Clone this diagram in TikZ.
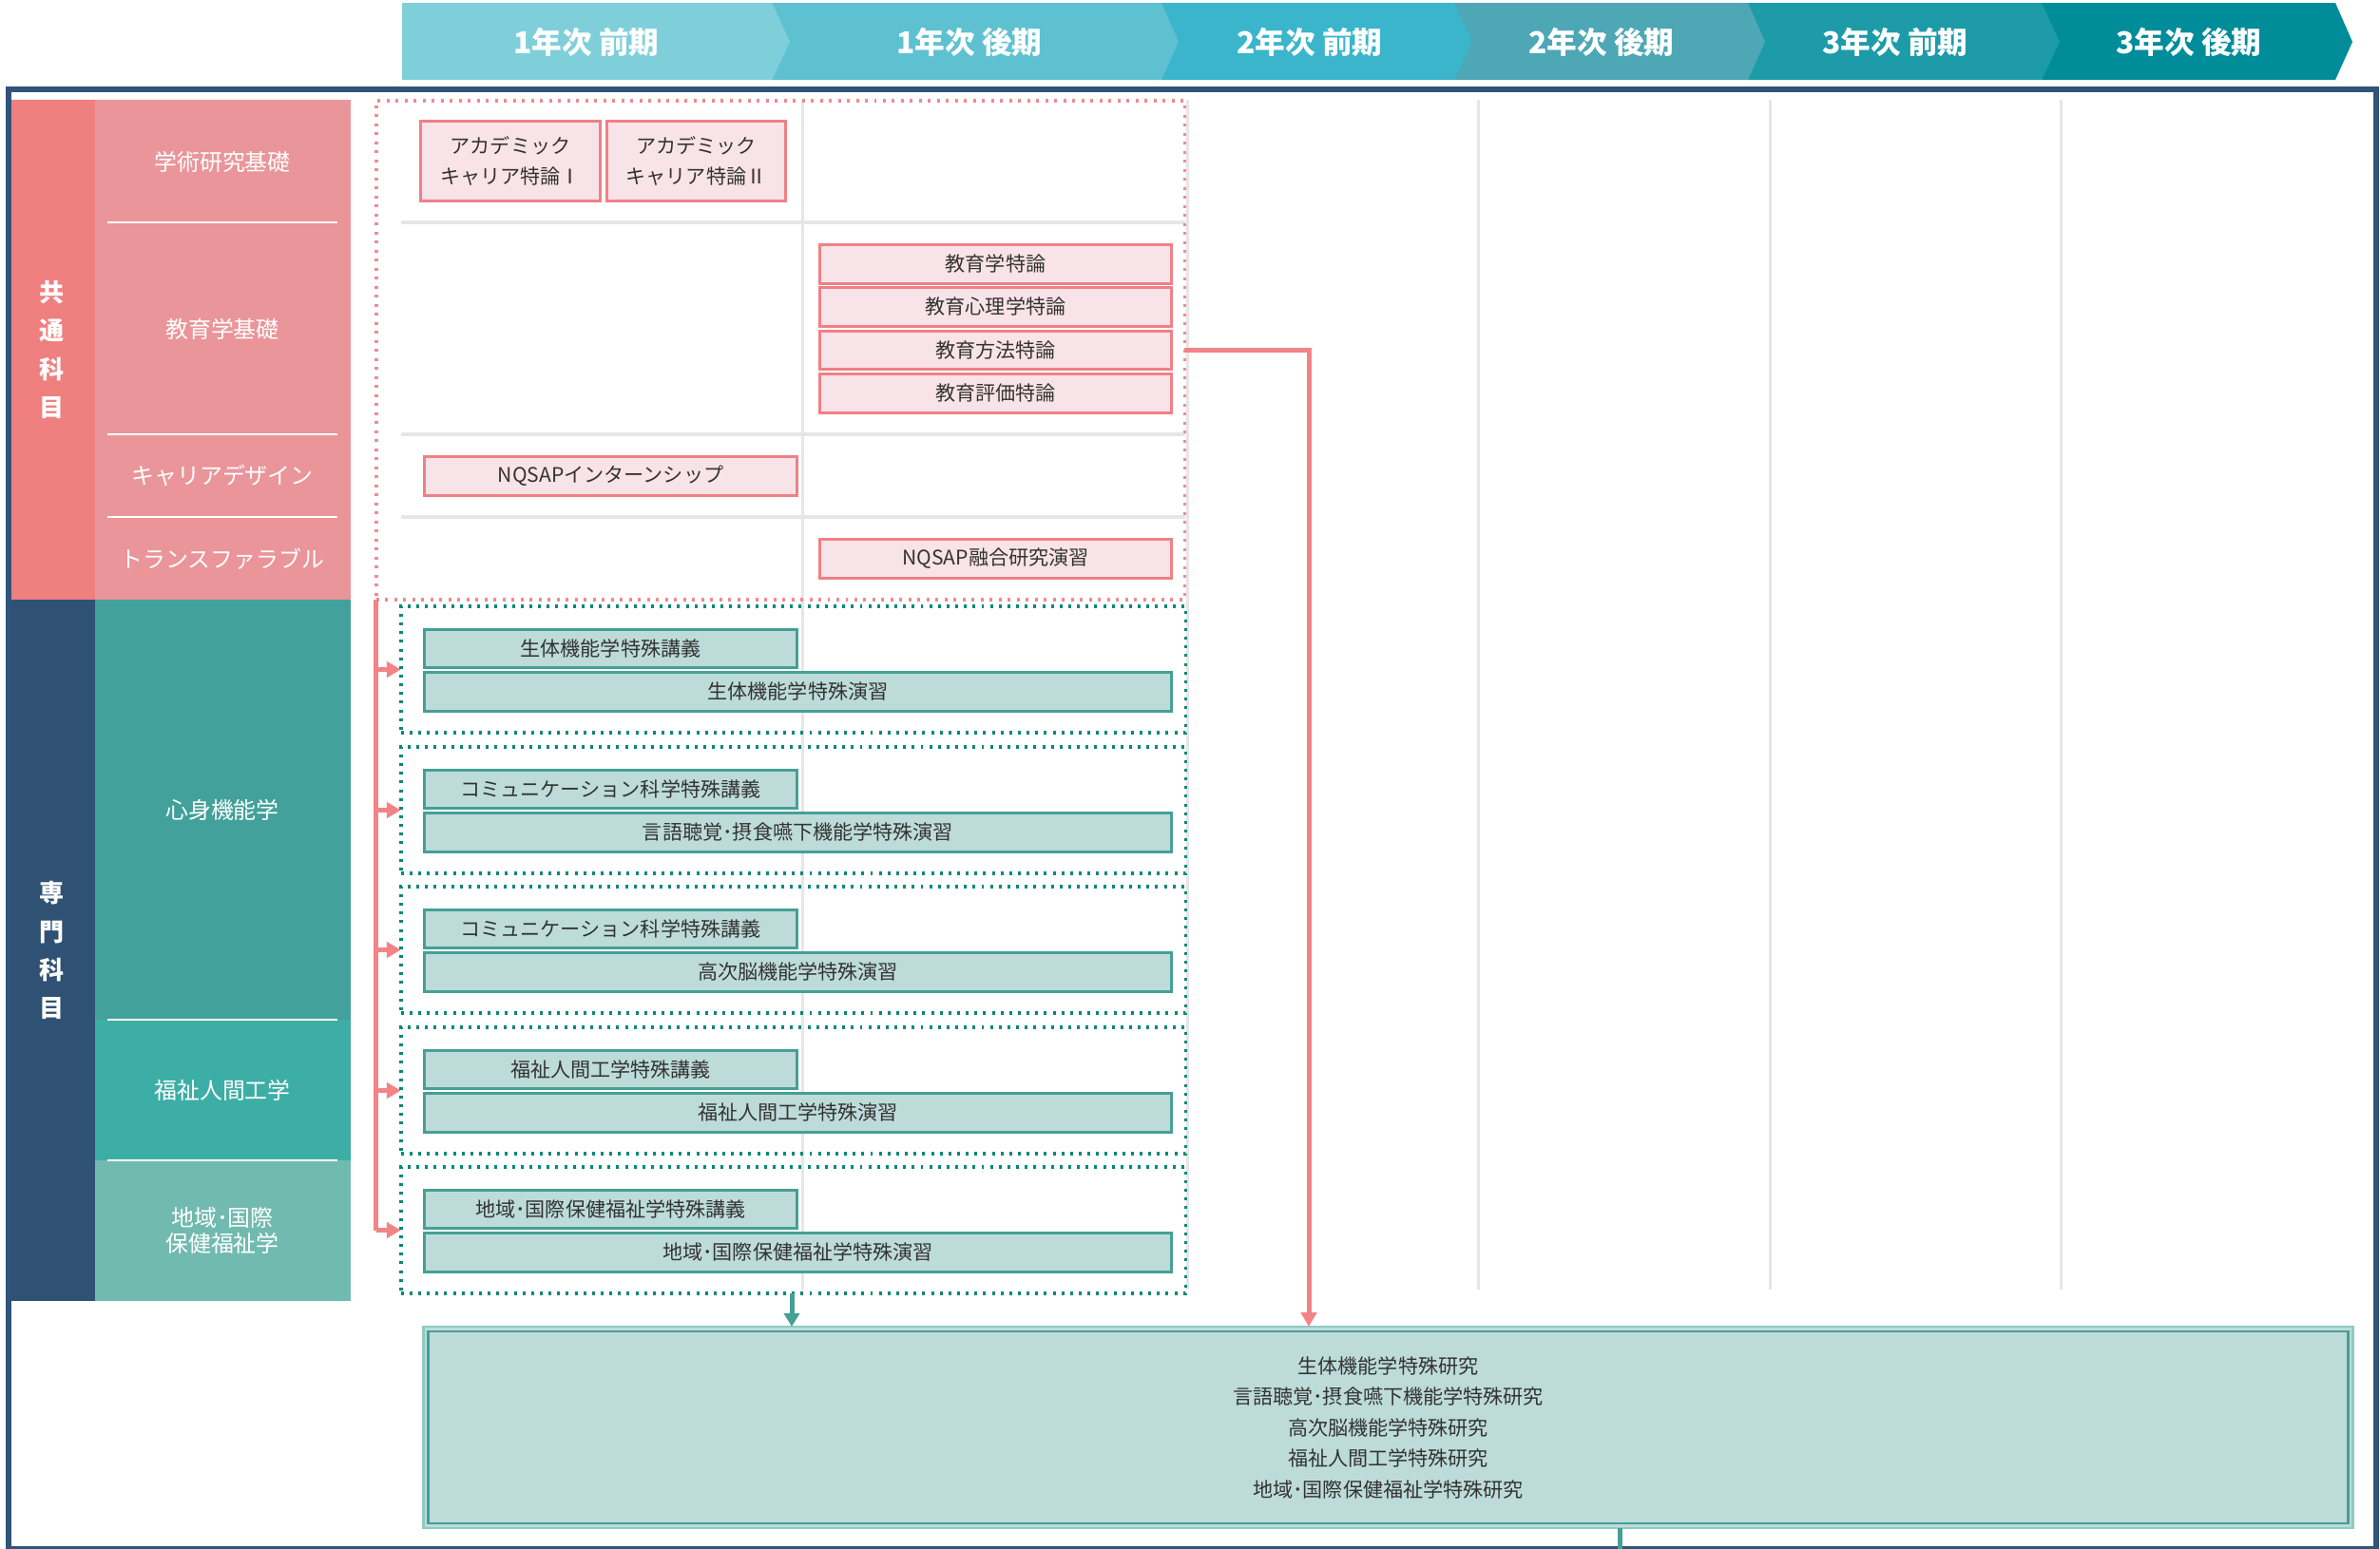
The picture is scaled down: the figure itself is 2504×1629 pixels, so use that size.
\documentclass[tikz,border=0pt]{standalone}
\usepackage{fontspec}
\setmainfont{Noto Sans CJK JP}
\usetikzlibrary{arrows.meta}
\definecolor{hA}{HTML}{7FCFDB}
\definecolor{hB}{HTML}{5EC1D1}
\definecolor{hC}{HTML}{3BB5CB}
\definecolor{hD}{HTML}{4DA7B5}
\definecolor{hE}{HTML}{1D9BA8}
\definecolor{hF}{HTML}{008C99}
\definecolor{navy}{HTML}{31547A}
\definecolor{catpink}{HTML}{F07F80}
\definecolor{subpink}{HTML}{EA959A}
\definecolor{catnavy}{HTML}{2F5173}
\definecolor{subteal}{HTML}{42A19A}
\definecolor{subtealB}{HTML}{3DAEA5}
\definecolor{subtealC}{HTML}{71BAB0}
\definecolor{pinkline}{HTML}{F08085}
\definecolor{pinkfill}{HTML}{F8E3E8}
\definecolor{pinkdot}{HTML}{EE8C92}
\definecolor{pinkconn}{HTML}{F28487}
\definecolor{tealline}{HTML}{45A096}
\definecolor{tealfill}{HTML}{BDDCD9}
\definecolor{tealdot}{HTML}{00897B}
\definecolor{teallight}{HTML}{8FC9C2}
\definecolor{gridgrey}{HTML}{E6E6E6}
\definecolor{txt}{HTML}{333333}
\newcommand\mybox[7]{\node[#1,minimum width={(#5-#3)*0.28453pt},minimum height={(#6-#4)*0.28453pt}] (#2) at ({(#3+#5)/2},{(#4+#6)/2}) {#7};}
\tikzset{
  hdrlab/.style={text=white, font=\bfseries\fontsize{9pt}{10pt}\selectfont},
  catlab/.style={text=white, font=\bfseries\fontsize{7.4pt}{11.4pt}\selectfont, align=center},
  sublab/.style={text=white, font=\fontsize{6.8pt}{7.8pt}\selectfont, align=center},
  pbox/.style={draw=pinkline, fill=pinkfill, line width=0.85pt, text=txt, font=\fontsize{6pt}{9.1pt}\selectfont, align=center, inner sep=0pt, outer sep=0pt},
  tbox/.style={draw=tealline, fill=tealfill, line width=0.85pt, text=txt, font=\fontsize{6pt}{9.1pt}\selectfont, align=center, inner sep=0pt, outer sep=0pt},
  bigbox/.style={draw=teallight, fill=tealfill, line width=0.7pt, text=txt, font=\fontsize{6pt}{9.25pt}\selectfont, align=center, inner sep=0pt, outer sep=0pt},
  pdot/.style={draw=pinkdot, line width=1pt, dash pattern=on 0.85pt off 1.85pt, inner sep=0pt, outer sep=0pt},
  tdot/.style={draw=tealdot, line width=1pt, dash pattern=on 0.85pt off 1.75pt, inner sep=0pt, outer sep=0pt},
  pconn/.style={draw=pinkconn, line width=1.42pt, -{Triangle[length=4.2pt,width=4.6pt]}},
  plink/.style={draw=pinkconn, line width=1.42pt},
  tconn/.style={draw=tealline, line width=1.42pt, -{Triangle[length=4pt,width=4.6pt]}},
  tlink/.style={draw=tealline, line width=1.42pt},
  gridv/.style={draw=gridgrey, line width=0.85pt},
  gridh/.style={draw=gridgrey, line width=1.2pt},
  sepline/.style={draw=white, line width=0.8pt},
}
\begin{document}
\begin{tikzpicture}[x=0.01cm,y=-0.01cm]
\useasboundingbox (0,0) rectangle (2504,1629);
% header chevrons
\fill[hF] (2148,3) -- (2457,3) -- (2475,44) -- (2457,84) -- (2148,84) -- cycle;
\fill[hE] (1839,3) -- (2148,3) -- (2167,44) -- (2148,84) -- (1839,84) -- cycle;
\fill[hD] (1530,3) -- (1839,3) -- (1857,44) -- (1839,84) -- (1530,84) -- cycle;
\fill[hC] (1222,3) -- (1530,3) -- (1549,44) -- (1530,84) -- (1222,84) -- cycle;
\fill[hB] (812,3) -- (1222,3) -- (1240,44) -- (1222,84) -- (812,84) -- cycle;
\fill[hA] (423,3) -- (812,3) -- (831,44) -- (812,84) -- (423,84) -- cycle;
\node[hdrlab] (h1) at (617,44) {1年次 前期};
\node[hdrlab] (h2) at (1020,44) {1年次 後期};
\node[hdrlab] (h3) at (1378,44) {2年次 前期};
\node[hdrlab] (h4) at (1685,44) {2年次 後期};
\node[hdrlab] (h5) at (1994,44) {3年次 前期};
\node[hdrlab] (h6) at (2303,44) {3年次 後期};
% frame
\draw[navy, line width=1.71pt] (9,94) rectangle (2500,1630);
% left columns
\fill[catpink] (12,105) rectangle (100,631);
\fill[subpink] (100,105) rectangle (369,631);
\fill[catnavy] (12,631) rectangle (100,1369);
\fill[subteal] (100,631) rectangle (369,1073);
\fill[subtealB] (100,1073) rectangle (369,1221);
\fill[subtealC] (100,1221) rectangle (369,1369);
\foreach \yy in {234,457,544,1073,1221} \draw[sepline] (113,\yy) -- (355,\yy);
\node[catlab] (k1) at (55,368) {共\\通\\科\\目};
\node[catlab] (k2) at (55,1000) {専\\門\\科\\目};
\node[sublab] (s1) at (234,170) {学術研究基礎};
\node[sublab] (s2) at (234,346) {教育学基礎};
\node[sublab] (s3) at (234,500) {キャリアデザイン};
\node[sublab] (s4) at (234,588) {トランスファラブル};
\node[sublab] (s5) at (234,852) {心身機能学};
\node[sublab] (s6) at (234,1147) {福祉人間工学};
\node[sublab] (s7) at (234,1295) {地域･国際\\保健福祉学};
% grid lines
\foreach \xx in {844,1249,1555,1862,2168} \draw[gridv] (\xx,105) -- (\xx,1357);
\foreach \yy in {234,457,544} \draw[gridh] (422,\yy) -- (1247,\yy);
% pink group
\mybox{pdot}{pgrp}{396}{106}{1246}{631}{}
\mybox{pbox}{a1}{443}{128}{631}{211}{アカデミック\\キャリア特論Ⅰ}
\mybox{pbox}{a2}{639}{128}{826}{211}{アカデミック\\キャリア特論Ⅱ}
\mybox{pbox}{e1}{863}{257}{1232}{298}{教育学特論}
\mybox{pbox}{e2}{863}{302}{1232}{343}{教育心理学特論}
\mybox{pbox}{e3}{863}{348}{1232}{388}{教育方法特論}
\mybox{pbox}{e4}{863}{393}{1232}{434}{教育評価特論}
\mybox{pbox}{n1}{447}{480}{838}{521}{NQSAPインターンシップ}
\mybox{pbox}{n2}{863}{567}{1232}{608}{NQSAP融合研究演習}
% teal groups
\mybox{tdot}{g1}{422}{638}{1247}{771}{}
\mybox{tdot}{g2}{422}{786}{1247}{919}{}
\mybox{tdot}{g3}{422}{933}{1247}{1066}{}
\mybox{tdot}{g4}{422}{1081}{1247}{1214}{}
\mybox{tdot}{g5}{422}{1228}{1247}{1361}{}
\mybox{tbox}{l1}{447}{662}{838}{702}{生体機能学特殊講義}
\mybox{tbox}{p1}{447}{707}{1232}{748}{生体機能学特殊演習}
\mybox{tbox}{l2}{447}{810}{838}{850}{コミュニケーション科学特殊講義}
\mybox{tbox}{p2}{447}{855}{1232}{896}{言語聴覚･摂食嚥下機能学特殊演習}
\mybox{tbox}{l3}{447}{957}{838}{997}{コミュニケーション科学特殊講義}
\mybox{tbox}{p3}{447}{1002}{1232}{1043}{高次脳機能学特殊演習}
\mybox{tbox}{l4}{447}{1105}{838}{1145}{福祉人間工学特殊講義}
\mybox{tbox}{p4}{447}{1150}{1232}{1191}{福祉人間工学特殊演習}
\mybox{tbox}{l5}{447}{1252}{838}{1292}{地域･国際保健福祉学特殊講義}
\mybox{tbox}{p5}{447}{1297}{1232}{1338}{地域･国際保健福祉学特殊演習}
% big box
\mybox{bigbox}{big}{446}{1396}{2475}{1608}{生体機能学特殊研究\\言語聴覚･摂食嚥下機能学特殊研究\\高次脳機能学特殊研究\\福祉人間工学特殊研究\\地域･国際保健福祉学特殊研究}
\draw[tealline, line width=0.7pt] ([shift={(5,5)}]big.north west) rectangle ([shift={(-5,-5)}]big.south east);
% connectors
\coordinate (t1) at (833,0);
\coordinate (c2) at (1377,0);
\coordinate (c3) at (1704,1640);
\draw[plink] (pgrp.south west) -- (g5.west -| pgrp.west);
\foreach \g in {g1,g2,g3,g4,g5} \draw[pconn] (\g.west -| pgrp.west) -- (\g.west);
\draw[pconn] (pgrp.east) -| (c2 |- big.north);
\draw[tconn] (g5.south -| t1) -- (big.north -| t1);
\draw[tlink] (big.south -| c3) -- (c3);
\end{tikzpicture}
\end{document}
